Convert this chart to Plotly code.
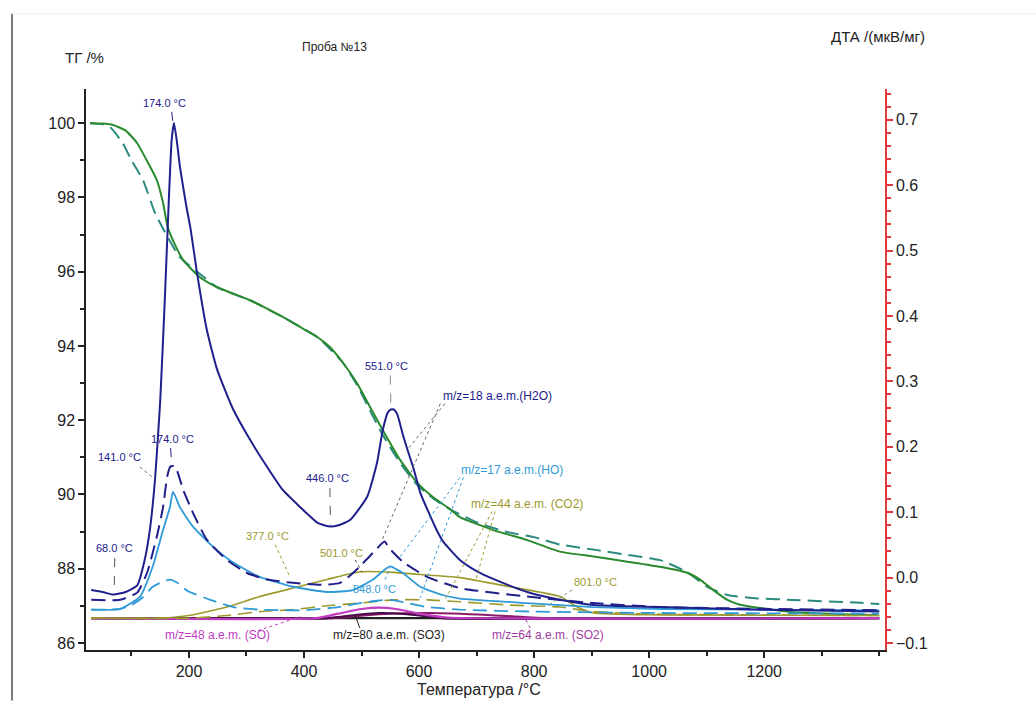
import plotly.graph_objects as go

# ---------------- data ----------------
# TG curves (left axis, %)
tg_solid_T = [28, 50, 68, 90, 110, 130, 144, 155, 163, 175, 190, 219, 249, 306, 363, 393, 423, 445,
              468, 492, 515, 537, 567, 597, 624, 654, 671, 729, 788, 845, 903, 962, 1019, 1066,
              1089, 1111, 1136, 1158, 1193, 1250, 1397]
tg_solid = [100.0, 99.99, 99.95, 99.8, 99.46, 98.9, 98.47, 97.85, 97.2, 96.75, 96.31, 95.85, 95.58,
            95.23, 94.78, 94.51, 94.24, 93.97, 93.54, 93.0, 92.35, 91.73, 90.93, 90.31, 89.93, 89.6,
            89.39, 89.04, 88.77, 88.46, 88.33, 88.19, 88.05, 87.89, 87.70, 87.43, 87.16, 87.03,
            86.94, 86.83, 86.75]

tg_dash_T = [28, 50, 63, 85, 100, 120, 141, 163, 184, 214, 249, 306, 363, 423, 468, 492, 515, 537,
             567, 597, 624, 654, 700, 750, 800, 845, 910, 962, 1019, 1066, 1101, 1136, 1190, 1250,
             1367, 1400]
tg_dash = [100.0, 99.97, 99.89, 99.46, 99.0, 98.47, 97.58, 96.93, 96.39, 96.0, 95.58, 95.23, 94.78,
           94.24, 93.54, 92.95, 92.25, 91.6, 90.85, 90.25, 89.9, 89.6, 89.25, 89.0, 88.85, 88.65,
           88.5, 88.37, 88.23, 87.91, 87.51, 87.29, 87.2, 87.16, 87.08, 87.05]

# DTA / MS curves (right axis)
dta_T = [30, 50, 68, 90, 110, 123, 132, 141, 150, 158, 165, 170, 174, 180, 184, 195, 203, 214, 231,
         249, 277, 306, 336, 363, 393, 405, 423, 435, 446, 460, 480, 510, 527, 537, 546, 551, 556,
         562, 572, 580, 590, 602, 614, 631, 642, 671, 700, 729, 788, 845, 903, 1019, 1200, 1400]
dta = [-0.019, -0.022, -0.026, -0.022, -0.012, 0.027, 0.073, 0.15, 0.27, 0.425, 0.578, 0.67, 0.695,
       0.66, 0.63, 0.57, 0.532, 0.466, 0.379, 0.318, 0.257, 0.211, 0.169, 0.134, 0.108, 0.098, 0.084,
       0.080, 0.078, 0.080, 0.088, 0.124, 0.176, 0.226, 0.253, 0.257, 0.257, 0.25, 0.218, 0.195, 0.168,
       0.130, 0.105, 0.072, 0.055, 0.027, 0.01, -0.002, -0.022, -0.034, -0.042, -0.045, -0.049, -0.052]

h2o_dash_T = [30, 80, 110, 127, 144, 155, 162, 168, 176, 190, 207, 231, 266, 301, 336, 381, 428, 463,
              485, 497, 520, 540, 548, 572, 614, 671, 788, 903, 1019, 1400]
h2o_dash = [-0.034, -0.034, -0.023, 0.007, 0.062, 0.108, 0.154, 0.17, 0.17, 0.134, 0.099, 0.058,
            0.027, 0.007, -0.003, -0.008, -0.011, -0.008, 0.007, 0.017, 0.038, 0.055, 0.045, 0.024,
            0.001, -0.016, -0.029, -0.039, -0.045, -0.05]

ho_T = [30, 80, 115, 137, 155, 167, 172, 176, 184, 207, 242, 277, 323, 381, 440, 485, 520, 540, 550,
        560, 572, 602, 642, 671, 788, 903, 1019, 1400]
ho = [-0.049, -0.048, -0.029, 0.017, 0.073, 0.108, 0.131, 0.125, 0.108, 0.078, 0.047, 0.023, 0.001,
      -0.014, -0.022, -0.019, -0.003, 0.012, 0.017, 0.013, 0.007, -0.014, -0.027, -0.032, -0.039,
      -0.045, -0.048, -0.05]

ho_dash_T = [30, 80, 100, 120, 137, 155, 167, 180, 197, 237, 277, 323, 400, 460, 497, 530, 550, 570,
             614, 671, 800, 1000, 1400]
ho_dash = [-0.049, -0.048, -0.042, -0.03, -0.014, -0.006, -0.003, -0.008, -0.02, -0.034, -0.045,
           -0.049, -0.05, -0.045, -0.039, -0.035, -0.034, -0.037, -0.045, -0.049, -0.052, -0.054,
           -0.055]

co2_T = [30, 150, 200, 266, 323, 381, 440, 485, 501, 555, 614, 671, 758, 845, 875, 903, 1019, 1400]
co2 = [-0.062, -0.062, -0.058, -0.045, -0.029, -0.016, -0.003, 0.007, 0.009, 0.008, 0.004, 0.0,
       -0.014, -0.029, -0.045, -0.054, -0.057, -0.058]

co2_dash_T = [30, 200, 266, 323, 381, 440, 497, 555, 614, 671, 758, 845, 903, 1019, 1400]
co2_dash = [-0.062, -0.062, -0.058, -0.052, -0.049, -0.043, -0.039, -0.034, -0.034, -0.037, -0.042,
            -0.045, -0.052, -0.056, -0.058]

so_T = [30, 420, 460, 500, 530, 560, 600, 650, 1400]
so = [-0.062, -0.062, -0.055, -0.048, -0.046, -0.048, -0.055, -0.061, -0.062]

so3_T = [30, 440, 490, 530, 580, 640, 1400]
so3 = [-0.062, -0.062, -0.057, -0.054, -0.056, -0.062, -0.062]

so2_T = [30, 450, 530, 620, 720, 820, 1400]
so2 = [-0.062, -0.062, -0.056, -0.054, -0.057, -0.062, -0.062]

base_T = [30, 1400]
base = [-0.062, -0.062]

x_ticks = [200, 400, 600, 800, 1000, 1200]

# ---------------- styles ----------------
NAVY = "#20208c"
GREEN = "#2a8a2e"
TEAL = "#2b8a80"
LBLUE = "#2f9ad6"
OLIVE = "#9c9a2c"
MAG = "#c03cc0"
PURP = "#4a0a4a"
SO2C = "#8a1a6a"
RED = "#e03a3a"
FONT = "Liberation Sans, Arial, sans-serif"

fig = go.Figure()


def line(x, y, color, width=1.8, dash=None, axis="y2"):
    fig.add_trace(go.Scatter(x=x, y=y, mode="lines", yaxis=axis, showlegend=False,
                             line=dict(color=color, width=width, dash=dash, shape="spline",
                                       smoothing=0.5), hoverinfo="skip"))


line(base_T, base, "#222222", 2.2)
line(so2_T, so2, SO2C, 2.0)
line(so3_T, so3, PURP, 2.0)
line(so_T, so, MAG, 2.2)
line(co2_dash_T, co2_dash, OLIVE, 1.6, "14px,7px")
line(co2_T, co2, OLIVE, 1.6)
line(ho_dash_T, ho_dash, LBLUE, 1.8, "14px,7px")
line(ho_T, ho, LBLUE, 1.8)
line(h2o_dash_T, h2o_dash, NAVY, 2.0, "14px,7px")
line(tg_dash_T, tg_dash, TEAL, 2.0, "14px,7px", axis="y")
line(tg_solid_T, tg_solid, GREEN, 2.0, axis="y")
line(dta_T, dta, NAVY, 2.0)

# ---------------- labels ----------------
labels = [
    ("174.0 °C", 158, 0.726, NAVY, 11),
    ("551.0 °C", 543, 0.324, NAVY, 11),
    ("446.0 °C", 440, 0.153, NAVY, 11),
    ("174.0 °C", 172, 0.212, NAVY, 11),
    ("141.0 °C", 80, 0.185, NAVY, 11),
    ("68.0 °C", 71, 0.046, NAVY, 11),
    ("377.0 °C", 336, 0.064, OLIVE, 11),
    ("501.0 °C", 466, 0.038, OLIVE, 11),
    ("548.0 °C", 523, -0.017, LBLUE, 11),
    ("801.0 °C", 906, -0.006, OLIVE, 11),
    ("m/z=18 a.e.m.(H2O)", 736, 0.278, NAVY, 12),
    ("m/z=17 a.e.m.(HO)", 762, 0.165, LBLUE, 12),
    ("m/z=44 a.e.m. (CO2)", 788, 0.113, OLIVE, 12),
    ("m/z=48 a.e.m. (SO)", 249, -0.087, MAG, 12),
    ("m/z=80 a.e.m. (SO3)", 548, -0.087, "#222222", 12),
    ("m/z=64 a.e.m. (SO2)", 824, -0.087, "#a03ca0", 12),
]
for txt, x, y, c, s in labels:
    fig.add_annotation(x=x, y=y, xref="x", yref="y2", text=txt, showarrow=False,
                       xanchor="center", yanchor="middle",
                       font=dict(family=FONT, size=s, color=c))

pointers = [
    (170, 0.712, 172, 0.697, NAVY, "dash"),
    (550, 0.309, 551, 0.262, "#888888", "dash"),
    (445, 0.137, 446, 0.081, "#555555", "dash"),
    (168, 0.198, 170, 0.175, NAVY, "dash"),
    (115, 0.169, 141, 0.150, "#666666", "dot"),
    (71, 0.030, 70, -0.022, "#555555", "dash"),
    (350, 0.050, 376, 0.000, OLIVE, "dot"),
    (489, 0.027, 501, 0.008, "#555555", "dot"),
    (541, -0.003, 550, 0.015, LBLUE, "dot"),
    (866, -0.019, 824, -0.043, "#888888", "dot"),
    (645, 0.266, 579, 0.195, "#666666", "dot"),
    (637, 0.266, 536, 0.058, "#666666", "dot"),
    (671, 0.153, 567, 0.032, LBLUE, "dot"),
    (677, 0.153, 602, -0.031, LBLUE, "dot"),
    (732, 0.101, 699, -0.003, OLIVE, "dot"),
    (727, 0.101, 645, -0.034, OLIVE, "dot"),
    (320, -0.081, 393, -0.060, MAG, "dot"),
    (497, -0.077, 489, -0.058, "#222222", "solid"),
    (793, -0.077, 784, -0.062, "#a03ca0", "dot"),
]
for x0, y0, x1, y1, c, d in pointers:
    fig.add_shape(type="line", xref="x", yref="y2", x0=x0, y0=y0, x1=x1, y1=y1,
                  line=dict(color=c, width=1, dash=d))

# axis titles / title
titles = [
    ("ТГ /%", -0.0013, 1.057, 15),
    ("ДТА /(мкВ/мг)", 0.991, 1.093, 15),
    ("Проба №13", 0.3116, 1.075, 12),
    ("Температура /°C", 0.492, -0.071, 16),
]
for txt, x, y, s in titles:
    fig.add_annotation(x=x, y=y, xref="paper", yref="paper", text=txt, showarrow=False,
                       xanchor="center", yanchor="middle",
                       font=dict(family=FONT, size=s, color="#222"))

# scan frame line at left
fig.add_shape(type="line", xref="paper", yref="paper", x0=-0.0926, x1=-0.0926, y0=-0.09, y1=1.134,
              line=dict(color="#7a7a7a", width=2))
fig.add_shape(type="line", xref="paper", yref="paper", x0=-0.0926, x1=1.19, y0=1.134, y1=1.134,
              line=dict(color="#ececec", width=1))

fig.update_layout(
    width=1036, height=708,
    margin=dict(l=86, r=151, t=89, b=58),
    paper_bgcolor="white", plot_bgcolor="white",
    font=dict(family=FONT, size=16, color="#222"),
    xaxis=dict(range=[21, 1410], tickvals=x_ticks, ticks="outside", ticklen=6, tickwidth=1.5,
               tickcolor="#222", showline=True, linecolor="#222", linewidth=1.5, showgrid=False,
               zeroline=False, minor=dict(dtick=100, tick0=0, ticks="outside", ticklen=4,
                                          tickcolor="#222"),
               tickfont=dict(size=16)),
    yaxis=dict(range=[85.81, 100.92], dtick=2, tick0=86, ticks="outside", ticklen=6, tickwidth=1.5,
               tickcolor="#222", showline=True, linecolor="#222", linewidth=1.5, showgrid=False,
               zeroline=False, minor=dict(dtick=1, tick0=86, ticks="outside", ticklen=4,
                                          tickcolor="#222"),
               tickfont=dict(size=16)),
    yaxis2=dict(range=[-0.1107, 0.747], overlaying="y", side="right", dtick=0.1, tick0=0,
                tickformat=".1f", ticks="outside", ticklen=6, tickwidth=1.5, tickcolor=RED,
                showline=True, linecolor=RED, linewidth=1.5, showgrid=False, zeroline=False,
                minor=dict(dtick=0.02, tick0=0, ticks="outside", ticklen=4, tickcolor=RED),
                tickfont=dict(size=16, color="#222")),
)

fig.write_html("out.html")
